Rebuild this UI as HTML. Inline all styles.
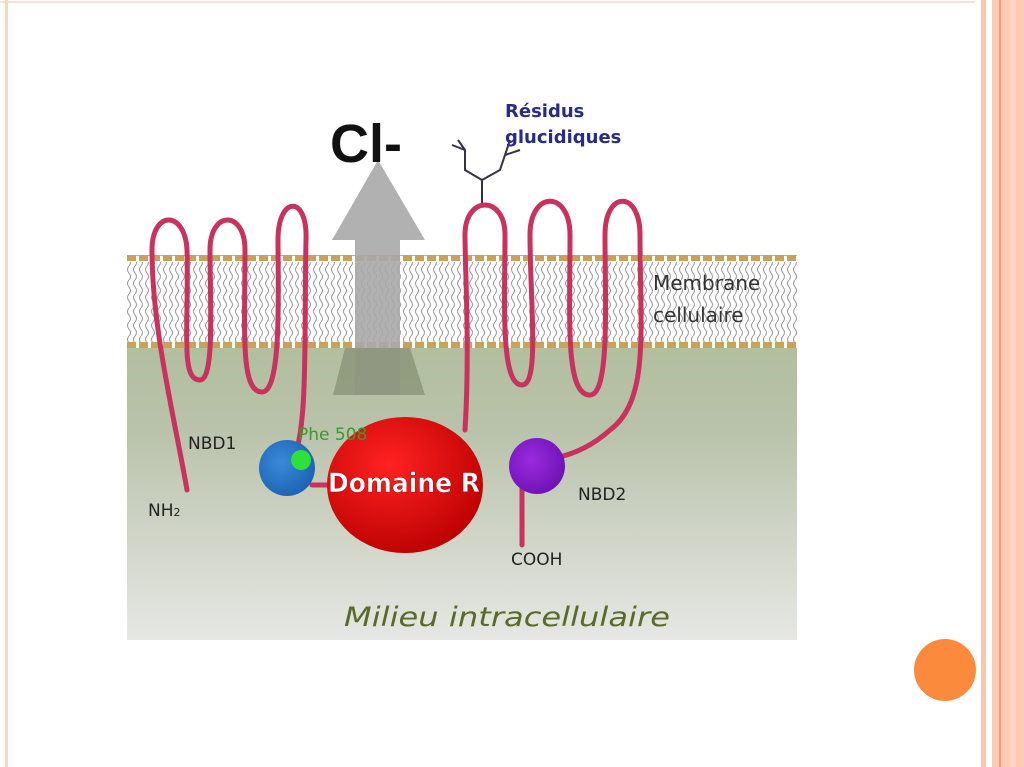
<!DOCTYPE html>
<html><head><meta charset="utf-8"><style>
html,body{margin:0;padding:0;background:#fff;}
body{width:1024px;height:767px;overflow:hidden;position:relative;font-family:"DejaVu Sans",sans-serif;}
</style></head><body>
<svg width="1024" height="767" viewBox="0 0 1024 767" xmlns="http://www.w3.org/2000/svg" style="position:absolute;left:0;top:0" font-family="DejaVu Sans, sans-serif">
<defs>
<linearGradient id="bg" x1="0" y1="0" x2="0" y2="1">
<stop offset="0" stop-color="#a9bb90"/><stop offset="0.45" stop-color="#b9c2aa"/><stop offset="1" stop-color="#e6e7e4"/>
</linearGradient>
<pattern id="wave" width="12" height="14" patternUnits="userSpaceOnUse">
<path d="M3 0 q-3 3.5 0 7 q3 3.5 0 7 M9 0 q-3 3.5 0 7 q3 3.5 0 7" stroke="#9a9a9a" stroke-width="1" fill="none"/>
</pattern>
<radialGradient id="red" cx="0.4" cy="0.35" r="0.7"><stop offset="0" stop-color="#f22"/><stop offset="1" stop-color="#b00"/></radialGradient>
<radialGradient id="blue" cx="0.4" cy="0.4" r="0.7"><stop offset="0" stop-color="#3a8ad8"/><stop offset="1" stop-color="#1a5fb0"/></radialGradient>
<radialGradient id="purp" cx="0.4" cy="0.4" r="0.7"><stop offset="0" stop-color="#9a2ae0"/><stop offset="1" stop-color="#6a10b0"/></radialGradient>
</defs>
<line x1="0" y1="2" x2="975" y2="2" stroke="#fbe0d6" stroke-width="2"/>
<rect x="5" y="0" width="3" height="767" fill="#fcd2c2"/>
<rect x="981" y="0" width="5" height="767" fill="#fcc5ae"/>
<rect x="992" y="0" width="32" height="767" fill="#fdcab3"/>
<rect x="999" y="0" width="2" height="767" fill="#f0a070"/>
<rect x="1010" y="0" width="6" height="767" fill="#fdd5c2"/>
<rect x="127" y="255" width="670" height="385" fill="url(#bg)"/>
<rect x="127" y="256" width="670" height="92" fill="#fff"/>
<rect x="127" y="262" width="670" height="80" fill="url(#wave)"/>
<line x1="127" y1="258" x2="797" y2="258" stroke="#c8a060" stroke-width="6" stroke-dasharray="9 3"/>
<line x1="127" y1="345" x2="797" y2="345" stroke="#c8a060" stroke-width="6" stroke-dasharray="9 3"/>
<text x="653" y="290" font-size="20" fill="#333">Membrane</text>
<text x="653" y="322" font-size="20" fill="#333">cellulaire</text>
<polygon points="378,160 425,240 400,240 400,395 355,395 355,240 332,240" fill="#a8a8a8" opacity="0.9"/>
<polygon points="345,348 410,348 425,395 333,395" fill="#8a9478" opacity="0.8"/>
<text x="330" y="162" font-size="54" font-weight="bold" fill="#111" font-family="Liberation Sans, sans-serif">Cl-</text>
<g stroke="#334" stroke-width="2" fill="none">
<path d="M482 205 V180 M482 180 L465 170 L465 150 L452 145 M465 150 L458 140 M482 180 L500 170 L505 155 L520 150 M505 155 L510 140"/>
</g>
<text x="505" y="117" font-size="18" font-weight="bold" fill="#2a2a8a">Résidus</text>
<text x="505" y="143" font-size="18" font-weight="bold" fill="#2a2a8a">glucidiques</text>
<g stroke="#c8325c" stroke-width="5" fill="none" stroke-linecap="round">
<path d="M187 490 C175 420 152 330 152 250 C152 210 185 210 187 250 C189 330 180 380 200 380 C215 380 210 300 210 250 C210 210 245 210 245 250 C245 330 240 392 262 392 C282 392 278 290 278 240 C278 195 308 195 306 240 C304 330 308 420 295 455"/>
<path d="M312 485 L330 485"/>
<path d="M465 430 C470 350 465 270 465 235 C465 195 505 195 505 235 C505 300 500 385 522 385 C540 385 530 300 530 235 C530 190 570 190 570 235 C570 320 565 395 590 395 C610 395 605 300 605 235 C605 190 640 190 640 235 C640 330 650 400 610 430 C590 448 570 455 555 458"/>
<path d="M522 480 L522 545"/>
</g>
<ellipse cx="405" cy="485" rx="78" ry="68" fill="url(#red)"/>
<text x="404" y="492" font-size="27" font-weight="bold" fill="#fff" text-anchor="middle" textLength="152" lengthAdjust="spacingAndGlyphs" stroke="#a00" stroke-width="0.5">Domaine R</text>
<circle cx="287" cy="468" r="28" fill="url(#blue)"/>
<circle cx="301" cy="460" r="10" fill="#2ee03a"/>
<circle cx="537" cy="466" r="28" fill="url(#purp)"/>
<text x="298" y="440" font-size="17" fill="#3a9a2a">Phe 508</text>
<text x="188" y="449" font-size="17" fill="#222">NBD1</text>
<text x="148" y="516" font-size="17" fill="#222">NH<tspan font-size="11">2</tspan></text>
<text x="578" y="500" font-size="17" fill="#222">NBD2</text>
<text x="511" y="565" font-size="17" fill="#222">COOH</text>
<text x="344" y="626" font-size="27" font-style="italic" fill="#5a6a2a" textLength="326" lengthAdjust="spacingAndGlyphs">Milieu intracellulaire</text>
<circle cx="945" cy="670" r="31" fill="#fb8a3c"/>
</svg>
</body></html>
